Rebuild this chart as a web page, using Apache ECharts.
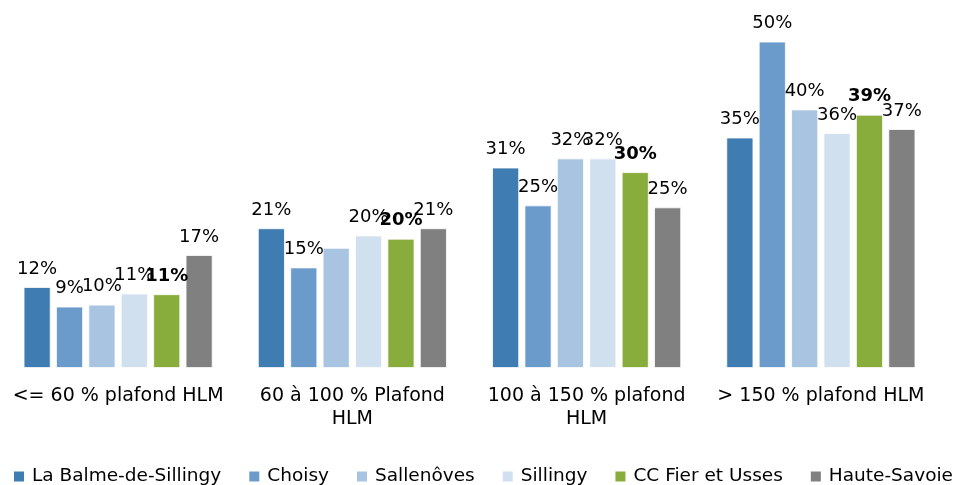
<!DOCTYPE html>
<html><head><meta charset="utf-8">
<script src="https://cdn.jsdelivr.net/npm/echarts@6/dist/echarts.min.js"></script>
<style>html,body{margin:0;padding:0;background:#fff}#c{width:953px;height:485px}</style>
</head><body><div id="c"></div>
<script>
const categories = ['<= 60 % plafond HLM', '60 à 100 % Plafond\nHLM', '100 à 150 % plafond\nHLM', '> 150 % plafond HLM'];
const seriesNames = ['La Balme-de-Sillingy', 'Choisy', 'Sallenôves', 'Sillingy', 'CC Fier et Usses', 'Haute-Savoie'];
const laBalme = [12.4, 21.4, 30.7, 35.3];
const choisy = [9.4, 15.4, 24.9, 50.0];
const sallenoves = [9.7, 18.4, 32.1, 39.6];
const sillingy = [11.4, 20.3, 32.1, 36.0];
const ccFier = [11.3, 19.8, 30.0, 38.8];
const hauteSavoie = [17.3, 21.4, 24.6, 36.6];
const colors = ['#3F7CB1', '#6A9BCA', '#A9C4E0', '#D1E0EE', '#89AD3D', '#808080'];
const hiddenLabels = [[], [], [1], [], [], []]; // indices where a label is not drawn

const FONT = 'DejaVu Sans';
const allData = [laBalme, choisy, sallenoves, sillingy, ccFier, hauteSavoie];
const series = allData.map((d, i) => ({
  name: seriesNames[i],
  type: 'bar',
  barWidth: 27,
  barGap: '20%',
  itemStyle: { color: colors[i], borderColor: '#ffffff', borderWidth: 0.8 },
  data: d.map((v, j) => hiddenLabels[i].includes(j) ? { value: v, label: { show: false } } : v),
  label: {
    show: true, position: 'top', distance: 9,
    fontFamily: FONT, fontSize: 18, color: '#000',
    fontWeight: i === 4 ? 'bold' : 'normal',
    formatter: p => Math.round(p.value) + '%'
  }
}));

const chart = echarts.init(document.getElementById('c'), null, { renderer: 'canvas' });
chart.setOption({
  animation: false,
  color: colors,
  grid: { left: 1, right: 15, top: 9, bottom: 117, containLabel: false },
  xAxis: {
    type: 'category', data: categories,
    axisLine: { show: false }, axisTick: { show: false },
    axisLabel: { fontFamily: FONT, fontSize: 19, color: '#000', margin: 17, lineHeight: 23, interval: 0 }
  },
  yAxis: { type: 'value', min: 0, max: 55, show: false, splitLine: { show: false } },
  legend: {
    left: 12, top: 467, width: 1200, padding: 0, itemWidth: 12, itemHeight: 12, itemGap: 26,
    icon: 'rect',
    textStyle: { fontFamily: FONT, fontSize: 18.5, color: '#000', padding: [0, 0, 0, 2] },
    data: seriesNames
  },
  series: series
});
</script></body></html>
